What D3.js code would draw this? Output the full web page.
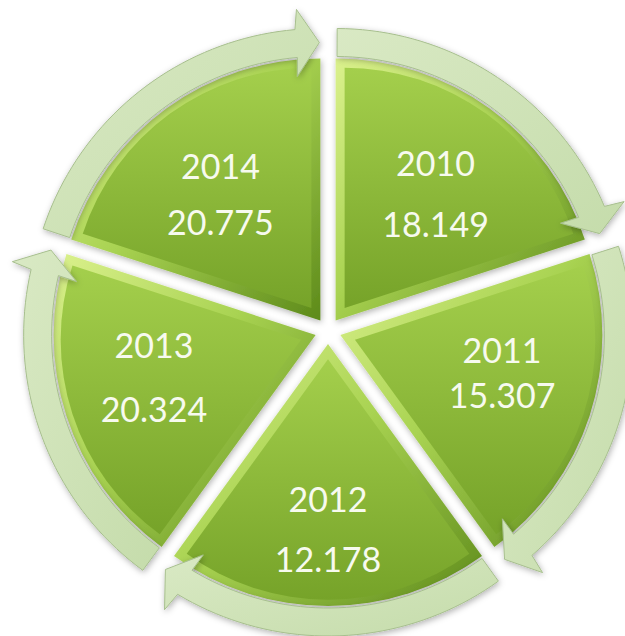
<!DOCTYPE html>
<html>
<head>
<meta charset="utf-8">
<script src="https://cdn.jsdelivr.net/npm/d3@7"></script>
<style>
  body { margin: 0; background: #fff; }
  .label { font-family: Lato, "Open Sans", sans-serif; font-size: 34px; fill: #f7faef; text-anchor: middle; }
</style>
</head>
<body>
<svg id="chart" width="625" height="636"></svg>
<script>
// Data
const years = ["2010", "2011", "2012", "2013", "2014"];
const values = ["18.149", "15.307", "12.178", "20.324", "20.775"];

// Layout constants
const svg = d3.select("#chart");
const cx = 328, cy = 331;
const R = 262;          // wedge radius
const explode = 13;     // wedge offset from centre
const bevel = 9;
const labelR = 170;
const labelNudge = [12, -14, 16, -10, 12];   // vertical tweak per label
const lineGap = [61, 45, 60, 64, 56];
const deg = Math.PI / 180;

const defs = svg.append("defs");

const shadow = defs.append("filter").attr("id", "shadow")
  .attr("x", "-20%").attr("y", "-20%").attr("width", "140%").attr("height", "140%");
shadow.append("feDropShadow")
  .attr("dx", 1).attr("dy", 2).attr("stdDeviation", 3)
  .attr("flood-color", "#000").attr("flood-opacity", 0.3);

const bevelGrad = defs.append("linearGradient").attr("id", "bevelGrad")
  .attr("x1", 0).attr("y1", 0).attr("x2", 1).attr("y2", 1);
bevelGrad.append("stop").attr("offset", "0%").attr("stop-color", "#dbf18d");
bevelGrad.append("stop").attr("offset", "45%").attr("stop-color", "#a9d352");
bevelGrad.append("stop").attr("offset", "100%").attr("stop-color", "#5d8a1a");

const faceGrad = defs.append("linearGradient").attr("id", "faceGrad")
  .attr("x1", 0).attr("y1", 0).attr("x2", 0).attr("y2", 1);
faceGrad.append("stop").attr("offset", "0%").attr("stop-color", "#a4cf4c");
faceGrad.append("stop").attr("offset", "100%").attr("stop-color", "#76a329");

const arrowGrad = defs.append("linearGradient").attr("id", "arrowGrad")
  .attr("x1", 0).attr("y1", 0).attr("x2", 1).attr("y2", 1);
arrowGrad.append("stop").attr("offset", "0%").attr("stop-color", "#d9e9c4");
arrowGrad.append("stop").attr("offset", "100%").attr("stop-color", "#c5dcab");

// Equal segments, one per year
const pie = d3.pie().value(() => 1).sort(null);
const slices = pie(years);

const outerArc = d3.arc().innerRadius(0).outerRadius(R);
const faceArc = d3.arc().innerRadius(0).outerRadius(R - 2.4 * bevel);

const half = Math.PI / years.length;
const mid = d => (d.startAngle + d.endAngle) / 2;

const wedges = svg.append("g")
  .attr("transform", "translate(" + cx + "," + cy + ")");

const seg = wedges.selectAll("g.seg").data(slices)
  .join("g")
  .attr("class", "seg")
  .attr("transform", d => "translate(" + explode * Math.sin(mid(d)) + "," + (-explode * Math.cos(mid(d))) + ")");

seg.append("path")
  .attr("d", outerArc)
  .attr("fill", "url(#bevelGrad)")
  .attr("filter", "url(#shadow)");

const inset = bevel / Math.sin(half);
seg.append("path")
  .attr("transform", d => "translate(" + inset * Math.sin(mid(d)) + "," + (-inset * Math.cos(mid(d))) + ")")
  .attr("d", faceArc)
  .attr("fill", "url(#faceGrad)");

// Circular arrows round each segment
const rIn = 264, rOut = 292, rMid = 278, headIn = 245, headOut = 312;
const radial = d3.lineRadial().angle(p => p[0]).radius(p => p[1]);

function arrowPoints(d) {
  const a0 = d.startAngle + 0.3 * deg;
  const aBack = d.endAngle - 5 * deg;
  const aTip = d.endAngle - 0.2 * deg;
  const steps = d3.range(0, 41).map(i => a0 + (aBack - a0) * i / 40);
  const pts = steps.map(a => [a, rOut]);
  pts.push([aBack + 0.6 * deg, headOut], [aTip, rMid], [aBack - 0.4 * deg, headIn]);
  steps.slice().reverse().forEach(a => pts.push([a, rIn]));
  return pts;
}

seg.append("path")
  .attr("d", d => radial(arrowPoints(d)) + "Z")
  .attr("fill", "url(#arrowGrad)")
  .attr("stroke", "#a7bf8e")
  .attr("stroke-width", 1)
  .attr("filter", "url(#shadow)");

// Labels
seg.each(function (d, i) {
  const g = d3.select(this);
  const lx = labelR * Math.sin(mid(d));
  const ly = -labelR * Math.cos(mid(d)) + labelNudge[i];
  const gap = lineGap[i];
  g.append("text").attr("class", "label")
    .attr("x", lx).attr("y", ly - gap / 2 + 12)
    .text(years[i]);
  g.append("text").attr("class", "label")
    .attr("x", lx).attr("y", ly + gap / 2 + 12)
    .text(values[i]);
});
</script>
</body>
</html>
